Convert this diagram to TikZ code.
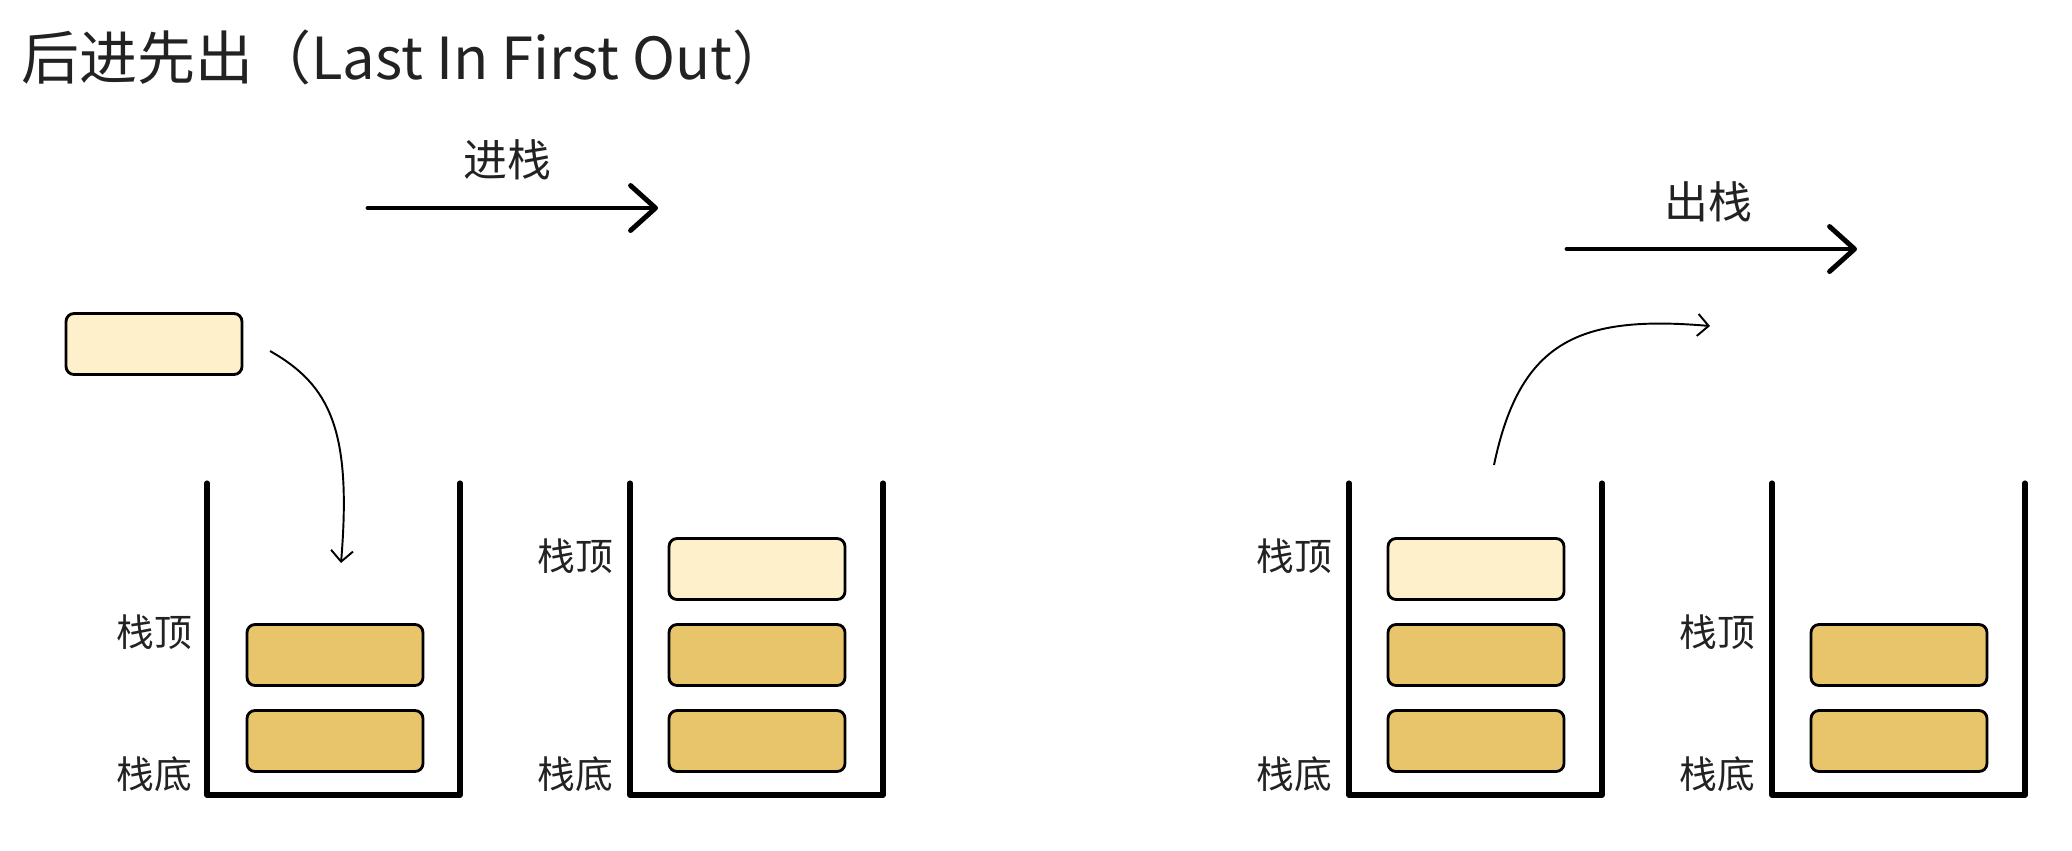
\documentclass[tikz,border=0pt]{standalone}
\usepackage{fontspec}
\setmainfont{Noto Sans CJK SC}
\usetikzlibrary{arrows.meta}
\definecolor{lightfill}{HTML}{FFF0CC}
\definecolor{darkfill}{HTML}{E8C56A}
\definecolor{txt}{HTML}{222222}
\begin{document}
\begin{tikzpicture}[x=0.02cm,y=-0.02cm,
  wall/.style={line width=2.9pt,line join=round,line cap=round},
  item/.style={draw=black,line width=1.6pt,rounded corners=0.16cm,minimum width=3.52cm,minimum height=1.22cm,inner sep=0pt},
  lightitem/.style={item,fill=lightfill},
  darkitem/.style={item,fill=darkfill},
  lbl/.style={text=txt,font=\fontsize{21.5pt}{24pt}\selectfont,inner sep=0pt},
  biglbl/.style={text=txt,font=\fontsize{25pt}{28pt}\selectfont,inner sep=0pt},
  bigarrow/.style={line width=2.8pt,line cap=round,-{Straight Barb[length=0.5cm,width=0.9cm,line cap=round,line join=round]}},
  thinarrow/.style={line width=1.1pt,-{Straight Barb[length=0.22cm,width=0.44cm]}}]
\useasboundingbox (0,0) rectangle (2072,850);

% title
\node[anchor=west,inner sep=0pt,text=txt,font=\fontsize{33pt}{38pt}\selectfont] (title) at (21,57) {后进先出（Last In First Out）};

% push arrow
\node[biglbl] (pushlbl) at (507,160) {进栈};
\coordinate (pushA) at (368,208);
\coordinate (pushB) at (658,208);
\draw[bigarrow] (pushA) -- (pushB);

% pop arrow
\node[biglbl] (poplbl) at (1708,202) {出栈};
\coordinate (popA) at (1567,249);
\coordinate (popB) at (1857,249);
\draw[bigarrow] (popA) -- (popB);

% free element
\node[lightitem] (free) at (154,344) {};

% stack 1
\draw[wall] (207,483) -- (207,795) -- (460,795) -- (460,483);
\node[darkitem] (s1b) at (335,655) {};
\node[darkitem] (s1c) at (335,741) {};
\node[lbl] (s1top) at (154,632) {栈顶};
\node[lbl] (s1bot) at (154,774) {栈底};

% stack 2
\draw[wall] (630,483) -- (630,795) -- (883,795) -- (883,483);
\node[lightitem] (s2a) at (757,569) {};
\node[darkitem] (s2b) at (757,655) {};
\node[darkitem] (s2c) at (757,741) {};
\node[lbl] (s2top) at (575,556) {栈顶};
\node[lbl] (s2bot) at (575,774) {栈底};

% stack 3
\draw[wall] (1349,483) -- (1349,795) -- (1602,795) -- (1602,483);
\node[lightitem] (s3a) at (1476,569) {};
\node[darkitem] (s3b) at (1476,655) {};
\node[darkitem] (s3c) at (1476,741) {};
\node[lbl] (s3top) at (1294,556) {栈顶};
\node[lbl] (s3bot) at (1294,774) {栈底};

% stack 4
\draw[wall] (1772,483) -- (1772,795) -- (2025,795) -- (2025,483);
\node[darkitem] (s4b) at (1899,655) {};
\node[darkitem] (s4c) at (1899,741) {};
\node[lbl] (s4top) at (1717,632) {栈顶};
\node[lbl] (s4bot) at (1717,774) {栈底};

% curved arrows
\coordinate (inA) at (270,351);
\coordinate (inB) at (341,563);
\draw[thinarrow] (inA) .. controls (330,385) and (352,430) .. (inB);
\coordinate (outA) at (1494,465);
\coordinate (outB) at (1710,326);
\draw[thinarrow] (outA) .. controls (1520,340) and (1580,315) .. (outB);
\end{tikzpicture}
\end{document}
